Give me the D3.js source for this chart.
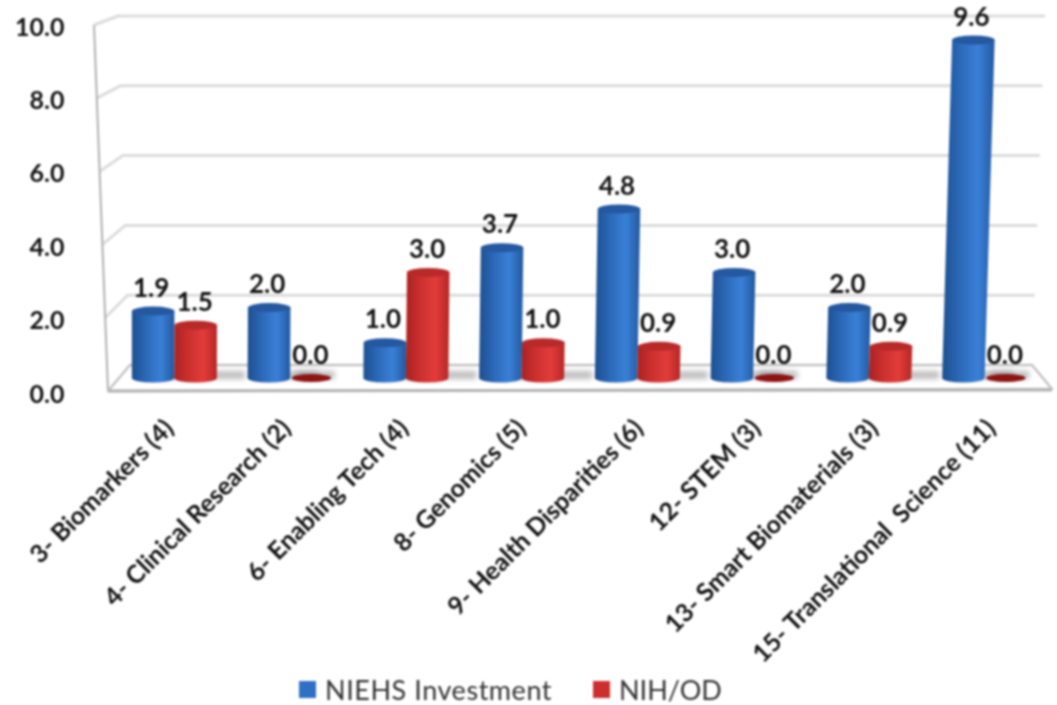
<!DOCTYPE html>
<html><head><meta charset="utf-8">
<script src="https://d3js.org/d3.v7.min.js"></script>
<style>
html,body{margin:0;padding:0;background:#fff}
svg{display:block;filter:blur(.9px)}
text{font-family:Lato,"Open Sans",sans-serif;fill:#111}
</style></head><body>
<svg id="c" width="1057" height="705"></svg>
<script>
const categories=["3- Biomarkers (4)","4- Clinical Research (2)","6- Enabling Tech (4)","8- Genomics (5)","9- Health Disparities (6)","12- STEM (3)","13- Smart Biomaterials (3)","15- Translational  Science (11)"];
const seriesNames=["NIEHS Investment","NIH/OD"];
const niehsValues=[1.9,2.0,1.0,3.7,4.8,3.0,2.0,9.6];
const nihOdValues=[1.5,0.0,3.0,1.0,0.9,0.0,0.9,0.0];
const tickValues=[0,2,4,6,8,10];

const svg=d3.select("#c");
const defs=svg.append("defs");
function grad(id,stops){
  const g=defs.append("linearGradient").attr("id",id);
  stops.forEach(s=>g.append("stop").attr("offset",s[0]).attr("stop-color",s[1]));
}
grad("gBlue",[[0,"#1d4f8f"],[.3,"#2a66b4"],[.68,"#3a80d8"],[1,"#23599f"]]);
grad("gRed",[[0,"#a92221"],[.3,"#c92f2e"],[.68,"#e23c3a"],[1,"#b52726"]]);
defs.append("filter").attr("id","soft").attr("x","-20%").attr("y","-200%").attr("width","140%").attr("height","500%")
  .append("feGaussianBlur").attr("stdDeviation",2.5);

const x0=d3.scaleBand().domain(categories).range([116.5,1042.5]);
const x1=d3.scaleBand().domain(seriesNames).range([-42.5,42.5]);
const xLabel=d3.scalePoint().domain(categories).range([175,997]);
const yBar=d3.scaleLinear().domain([0,9.6]).range([378,40]);
const yBack=d3.scaleLinear().domain([0,10]).range([365,16]);
const yFront=d3.scaleLinear().domain([0,10]).range([391,25]);
const xBackL=d3.scaleLinear().domain([0,10]).range([130,118]);
const xFrontL=d3.scaleLinear().domain([0,10]).range([108,94]);
const xBackR=d3.scaleLinear().domain([0,10]).range([1032,1045]);
const yTick=d3.scaleLinear().domain([0,10]).range([394,27]);

// walls
const wall=svg.append("g").attr("fill","none");
wall.selectAll("path.g").data(tickValues.filter(d=>d>0)).join("path").attr("class","g")
  .attr("d",d=>`M${xFrontL(d)},${yFront(d)}L${xBackL(d)},${yBack(d)}L${xBackR(d)},${yBack(d)}`)
  .attr("stroke","#dcdcdc").attr("stroke-width",3);
wall.append("line").attr("x1",xFrontL(0)).attr("y1",yFront(0)).attr("x2",xFrontL(10)).attr("y2",yFront(10))
  .attr("stroke","#b0b0b0").attr("stroke-width",2);
// floor
svg.append("path")
  .attr("d",`M${xFrontL(0)},${yFront(0)}L${xBackL(0)},${yBack(0)}L${xBackR(0)},${yBack(0)}L1052,389Z`)
  .attr("fill","#fff").attr("stroke","#c4c4c4").attr("stroke-width",2.5).attr("stroke-linejoin","round");
svg.append("line").attr("x1",108).attr("y1",391).attr("x2",1052).attr("y2",390).attr("stroke","#b4b4b4").attr("stroke-width",3);

const rows=[];
categories.forEach((c,i)=>{
  rows.push({c,s:seriesNames[0],v:niehsValues[i],f:"gBlue",t:"#2558a0",d:"#1a4a8a"});
  rows.push({c,s:seriesNames[1],v:nihOdValues[i],f:"gRed",t:"#b82a29",d:"#8e1414"});
});
const cx=r=>x0(r.c)+x0.bandwidth()/2+x1(r.s)+x1.bandwidth()/2;
const lean=r=>(cx(r)-150)*r.v*0.00128;
const RX=x1.bandwidth()/2, RY=4.5;

// shadows
svg.append("g").selectAll("rect").data(rows).join("rect")
  .attr("x",r=>cx(r)-RX+6).attr("width",r=>r.v>0?RX*2+22:RX*2-4).attr("y",371).attr("height",8)
  .attr("fill","#8a8a8a").attr("opacity",.55).attr("filter","url(#soft)");

// cylinders
const bars=svg.append("g").selectAll("g").data(rows).join("g");
bars.filter(r=>r.v>0).append("path")
  .attr("d",r=>{
    const b=cx(r),t=b+lean(r),yb=yBar(0),yt=yBar(r.v);
    return `M${t-RX},${yt}L${b-RX},${yb}A${RX},${RY} 0 0 0 ${b+RX},${yb}L${t+RX},${yt}Z`;
  }).attr("fill",r=>`url(#${r.f})`);
bars.append("ellipse")
  .attr("cx",r=>cx(r)+lean(r)).attr("cy",r=>yBar(r.v))
  .attr("rx",r=>r.v>0?RX:RX-1.5).attr("ry",r=>r.v>0?RY:4)
  .attr("fill",r=>r.v>0?r.t:r.d);

// value labels
svg.append("g").selectAll("text").data(rows).join("text")
  .attr("x",r=>cx(r)+lean(r)-(r.s===seriesNames[0]?2:1)).attr("y",r=>yBar(r.v)-14.5)
  .attr("text-anchor","middle").attr("font-size",26).attr("font-weight",700)
  .text(r=>d3.format(".1f")(r.v));

// y axis
const ax=svg.append("g").attr("transform","translate(64.5,0)")
  .call(d3.axisLeft(yTick).tickValues(tickValues).tickFormat(d3.format(".1f")).tickSize(0).tickPadding(0));
ax.select(".domain").remove();
ax.selectAll("text").attr("font-size",25).attr("font-weight",700).style("font-family","Lato,sans-serif").style("fill","#111");

// x labels
svg.append("g").selectAll("text").data(categories).join("text")
  .attr("transform",d=>`translate(${xLabel(d)},430) rotate(-45)`)
  .attr("text-anchor","end").attr("font-size",25).attr("font-weight",700).style("white-space","pre")
  .text(d=>d);

// legend
const lg=svg.append("g");
const legendX=d3.scaleOrdinal().domain(seriesNames).range([299,593]);
const legendFill=d3.scaleOrdinal().domain(seriesNames).range(["#2f6fc4","#cc302e"]);
const legendSpacing=d3.scaleOrdinal().domain(seriesNames).range(["0.55px","0px"]);
seriesNames.forEach(s=>{
  lg.append("rect").attr("x",legendX(s)).attr("y",681).attr("width",17).attr("height",17).attr("fill",legendFill(s));
  lg.append("text").attr("x",legendX(s)+26).attr("y",700).attr("font-size",27).style("letter-spacing",legendSpacing(s)).style("fill","#333").text(s);
});
</script>
</body></html>
